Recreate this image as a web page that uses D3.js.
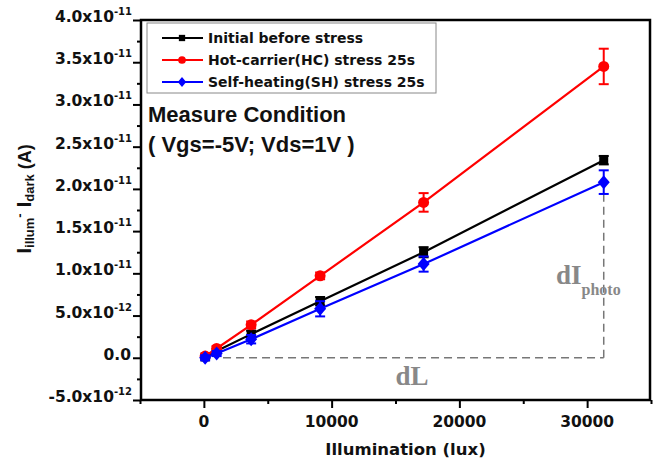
<!DOCTYPE html>
<html>
<head>
<meta charset="utf-8">
<script src="https://cdn.jsdelivr.net/npm/d3@7"></script>
<style>
html,body{margin:0;padding:0;background:#fff;}
svg{display:block;}
</style>
</head>
<body>
<svg id="display" width="662" height="463"></svg>
<script>
// data
const illumination=[100,1000,3700,9100,17200,31300];
const initial_vals=[0.1e-12,0.8e-12,2.8e-12,6.7e-12,12.5e-12,23.4e-12];
const initial_err=[0.2e-12,0.2e-12,0.4e-12,0.5e-12,0.6e-12,0.5e-12];
const hc_vals=[0.2e-12,1.1e-12,3.9e-12,9.7e-12,18.4e-12,34.5e-12];
const hc_err=[0.2e-12,0.3e-12,0.4e-12,0.4e-12,1.1e-12,2.1e-12];
const sh_vals=[0.0,0.5e-12,2.2e-12,5.8e-12,11.1e-12,20.8e-12];
const sh_err=[0.3e-12,0.3e-12,0.5e-12,0.9e-12,0.9e-12,1.4e-12];
const series_names=["Initial before stress","Hot-carrier(HC) stress 25s","Self-heating(SH) stress 25s"];

const x_ticks=[0,10000,20000,30000];
const x_minor=[-5000,5000,15000,25000,35000];
const y_ticks=[-5e-12,0,5e-12,1e-11,1.5e-11,2e-11,2.5e-11,3e-11,3.5e-11,4e-11];
const y_tick_mant=["-5.0","0.0","5.0","1.0","1.5","2.0","2.5","3.0","3.5","4.0"];
const y_tick_exp=["-12","","-12","-11","-11","-11","-11","-11","-11","-11"];

// dL / dI_photo guide
const guide_x=[1500,31300];
const guide_top=19.4e-12;

const display=d3.select("#display");
const x_scale=d3.scaleLinear().domain([-5000,35000]).range([140,651]);
const y_scale=d3.scaleLinear().domain([-5e-12,4e-11]).range([400,20]);
const y_minor=y_ticks.slice(0,-1).map(v=>v+2.5e-12);

const tick_font="'DejaVu Sans', sans-serif";

// axes ticks
const y_axis=display.append("g").attr("transform","translate(141,0)");
y_axis.call(d3.axisLeft(y_scale).tickValues(y_ticks).tickSize(8).tickFormat(""));
y_axis.append("g").call(d3.axisLeft(y_scale).tickValues(y_minor).tickSize(4).tickFormat(""));
y_axis.selectAll("path.domain").remove();
y_axis.selectAll("line").attr("stroke","#000").attr("stroke-width",2);

const x_axis=display.append("g").attr("transform","translate(0,400)");
x_axis.call(d3.axisBottom(x_scale).tickValues(x_ticks).tickSize(8).tickFormat(""));
x_axis.append("g").call(d3.axisBottom(x_scale).tickValues(x_minor).tickSize(4).tickFormat(""));
x_axis.selectAll("path.domain").remove();
x_axis.selectAll("line").attr("stroke","#000").attr("stroke-width",2);

// y tick labels with superscript exponent
y_ticks.forEach(function(v,i){
    const t=display.append("text")
        .attr("x",132)
        .attr("y",y_scale(v)+2)
        .attr("text-anchor","end")
        .style("font-family",tick_font)
        .style("font-weight","bold")
        .style("font-size","15.5px")
        .style("fill","#111");
    if (y_tick_exp[i]===""){
        t.attr("x",131).text(y_tick_mant[i]);
    }
    else{
        t.append("tspan").text(y_tick_mant[i]+"x10");
        t.append("tspan").attr("dy",-7).style("font-size","10px").text(y_tick_exp[i]);
    }
});

// x tick labels
for (const v of x_ticks){
    display.append("text")
        .attr("x",x_scale(v))
        .attr("y",427)
        .attr("text-anchor","middle")
        .style("font-family",tick_font)
        .style("font-weight","bold")
        .style("font-size","15.5px")
        .style("fill","#111")
        .text(v.toString());
}

// axis titles
display.append("text")
    .attr("x",x_scale(15000)+10)
    .attr("y",455)
    .attr("text-anchor","middle")
    .style("font-family",tick_font)
    .style("font-weight","bold")
    .style("font-size","16.5px")
    .style("fill","#111")
    .text("Illumination (lux)");

const y_title=display.append("text")
    .attr("transform","translate(31,199) rotate(-90)")
    .attr("text-anchor","middle")
    .style("font-family","'Liberation Sans', Arial, sans-serif")
    .style("font-weight","bold")
    .style("fill","#111");
y_title.append("tspan").style("font-size","21px").text("I");
y_title.append("tspan").style("font-size","13px").attr("dy",3).text("illum");
y_title.append("tspan").style("font-size","13px").attr("dy",-10).text("-");
y_title.append("tspan").style("font-size","21px").attr("dy",7).text(" I");
y_title.append("tspan").style("font-size","13px").attr("dy",3).text("dark");
y_title.append("tspan").style("font-size","18px").attr("dy",-3).text(" (A)");

// dashed guide lines
display.append("line")
    .attr("x1",x_scale(guide_x[0])).attr("y1",y_scale(0))
    .attr("x2",x_scale(guide_x[1])).attr("y2",y_scale(0))
    .attr("stroke","#777").attr("stroke-width",1.5).attr("stroke-dasharray","8,5");
display.append("line")
    .attr("x1",x_scale(guide_x[1])).attr("y1",y_scale(0))
    .attr("x2",x_scale(guide_x[1])).attr("y2",y_scale(guide_top))
    .attr("stroke","#777").attr("stroke-width",1.5).attr("stroke-dasharray","8,5");

display.append("text")
    .attr("x",412).attr("y",385)
    .attr("text-anchor","middle")
    .style("font-family","'Liberation Serif', 'DejaVu Serif', serif")
    .style("font-weight","bold")
    .style("font-size","27px")
    .style("fill","#888")
    .text("dL");
const di=display.append("text")
    .attr("x",556).attr("y",284)
    .style("font-family","'Liberation Serif', 'DejaVu Serif', serif")
    .style("font-weight","bold")
    .style("fill","#888");
di.append("tspan").style("font-size","27px").text("dI");
di.append("tspan").style("font-size","16px").attr("dy",11).text("photo");

// series
const series_list=[
    {name:series_names[0],vals:initial_vals,err:initial_err,color:"#000",marker:"square"},
    {name:series_names[1],vals:hc_vals,err:hc_err,color:"#f00",marker:"circle"},
    {name:series_names[2],vals:sh_vals,err:sh_err,color:"#00f",marker:"diamond"}
];

function draw_marker(g,type,cx,cy,color,s){
    if (type==="square"){
        g.append("rect").attr("x",cx-4.5*s).attr("y",cy-4.5*s).attr("width",9*s).attr("height",9*s).attr("fill",color);
    }
    else if (type==="circle"){
        g.append("circle").attr("cx",cx).attr("cy",cy).attr("r",5.5*s).attr("fill",color);
    }
    else{
        g.append("path")
            .attr("d","M"+cx+","+(cy-7*s)+"L"+(cx+6*s)+","+cy+"L"+cx+","+(cy+7*s)+"L"+(cx-6*s)+","+cy+"Z")
            .attr("fill",color);
    }
}

const line_gen=d3.line().x(d=>x_scale(d[0])).y(d=>y_scale(d[1]));
for (const s of series_list){
    const g=display.append("g");
    const pts=illumination.map((x,i)=>[x,s.vals[i]]);
    g.append("path").attr("d",line_gen(pts)).attr("fill","none").attr("stroke",s.color).attr("stroke-width",2.2);
    illumination.forEach(function(x,i){
        const cx=x_scale(x);
        const y1=y_scale(s.vals[i]-s.err[i]);
        const y2=y_scale(s.vals[i]+s.err[i]);
        g.append("line").attr("x1",cx).attr("x2",cx).attr("y1",y1).attr("y2",y2).attr("stroke",s.color).attr("stroke-width",2);
        g.append("line").attr("x1",cx-5).attr("x2",cx+5).attr("y1",y1).attr("y2",y1).attr("stroke",s.color).attr("stroke-width",2);
        g.append("line").attr("x1",cx-5).attr("x2",cx+5).attr("y1",y2).attr("y2",y2).attr("stroke",s.color).attr("stroke-width",2);
        draw_marker(g,s.marker,cx,y_scale(s.vals[i]),s.color,1);
    });
}

// frame
display.append("rect")
    .attr("x",x_scale(-5000)+1).attr("y",y_scale(4e-11))
    .attr("width",x_scale(35000)-x_scale(-5000)-2)
    .attr("height",y_scale(-5e-12)-y_scale(4e-11))
    .attr("fill","none").attr("stroke","#000").attr("stroke-width",2.5);

// legend
const legend=display.append("g");
legend.append("rect").attr("x",147).attr("y",23).attr("width",289).attr("height",70)
    .attr("fill","#fff").attr("stroke","#888").attr("stroke-width",1);
series_list.forEach(function(s,i){
    const ly=38+i*22;
    legend.append("line").attr("x1",162).attr("x2",203).attr("y1",ly).attr("y2",ly).attr("stroke",s.color).attr("stroke-width",2);
    draw_marker(legend,s.marker,182,ly,s.color,0.7);
    legend.append("text")
        .attr("x",208).attr("y",ly+5)
        .style("font-family",tick_font)
        .style("font-weight","bold")
        .style("font-size","14px")
        .style("fill","#111")
        .text(s.name);
});

// measure condition note
const note_font="'Liberation Sans', Arial, sans-serif";
display.append("text")
    .attr("x",148).attr("y",122)
    .style("font-family",note_font).style("font-weight","bold").style("font-size","22px").style("fill","#111")
    .text("Measure Condition");
display.append("text")
    .attr("x",148).attr("y",152)
    .style("font-family",note_font).style("font-weight","bold").style("font-size","22px").style("fill","#111")
    .text("( Vgs=-5V; Vds=1V )");
</script>
</body>
</html>
